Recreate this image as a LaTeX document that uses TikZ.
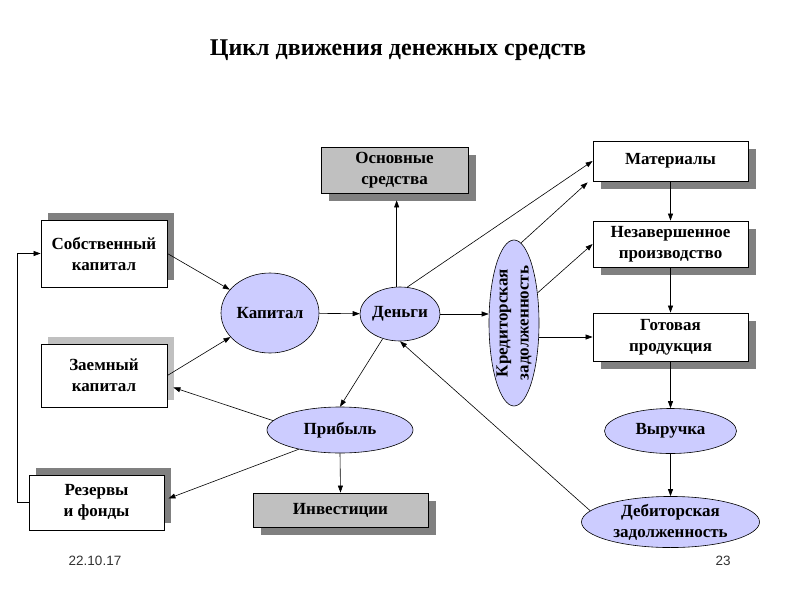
\documentclass[tikz,border=0pt]{standalone}
\usepackage{fontspec}
\setmainfont{Liberation Serif}
\setsansfont{Liberation Sans}
\usetikzlibrary{shapes.geometric,arrows.meta,shadows,calc}
\definecolor{lav}{RGB}{204,204,255}
\definecolor{shd}{RGB}{128,128,128}
\definecolor{lshd}{RGB}{192,192,192}
\definecolor{gbox}{RGB}{192,192,192}
\definecolor{foot}{RGB}{50,50,50}
\begin{document}
\begin{tikzpicture}[x=1pt,y=-1pt,
  txt/.style={font=\fontsize{17}{21}\selectfont\bfseries, align=center},
  box/.style={txt, draw, fill=white, line width=0.8pt, inner sep=0pt},
  upsh/.style={drop shadow={shadow xshift=7pt, shadow yshift=7pt, fill=#1, opacity=1}},
  dnsh/.style={drop shadow={shadow xshift=8pt, shadow yshift=-8pt, fill=#1, opacity=1}},
  oval/.style={txt, ellipse, draw, fill=lav, line width=0.6pt, inner sep=0pt},
  arr/.style={-{Triangle[length=7pt,width=5pt]}, line width=0.6pt},
  ln/.style={line width=0.6pt}
]
\useasboundingbox (0,0) rectangle (800,600);

\node[font=\fontsize{24}{28}\selectfont\bfseries] (title) at (398,50) {Цикл движения денежных средств};

% boxes
\node[box, upsh=shd, minimum width=126, minimum height=67] (sob) at (104,253.5) {Собственный\\капитал};
\node[box, upsh=lshd, minimum width=126, minimum height=63] (zaem) at (104,375.5) {Заемный\\капитал};
\node[box, upsh=shd, minimum width=135, minimum height=55] (rez) at (96.5,502.5) {Резервы\\и фонды};
\node[box, dnsh=shd, fill=gbox, minimum width=147, minimum height=46] (osn) at (394.5,170) {Основные\\средства};
\node[box, dnsh=shd, fill=gbox, minimum width=175, minimum height=34] (inv) at (340.5,510) {Инвестиции};
\node[box, dnsh=shd, minimum width=155, minimum height=40] (mat) at (670.5,161) {Материалы};
\node[box, dnsh=shd, minimum width=155, minimum height=46] (nez) at (670.5,244) {Незавершенное\\производство};
\node[box, dnsh=shd, minimum width=155, minimum height=48] (got) at (670.5,337) {Готовая\\продукция};

% ellipses
\node[oval, minimum width=98, minimum height=80] (kap) at (270,313) {Капитал};
\node[oval, minimum width=80, minimum height=54] (den) at (400,314) {Деньги};
\node[oval, minimum width=50, minimum height=166] (kred) at (514,323) {};
\node[txt, rotate=90] (kredt) at (kred) {Кредиторская\\задолженность};
\node[oval, minimum width=146, minimum height=46] (prib) at (340,430) {Прибыль};
\node[oval, minimum width=132, minimum height=45] (vyr) at (670.5,431) {Выручка};
\node[oval, minimum width=178, minimum height=50] (deb) at (670.5,522) {Дебиторская\\задолженность};

% connectors
\draw[arr] (rez.west) -- ++(-11,0) |- (sob.west);
\draw[arr] (sob.east) -- (kap);
\draw[arr] (zaem.east) -- (kap);
\draw[arr] (prib.172) -- ($(zaem.east)+(6,12)$);
\draw[arr] (prib.205) -- ($(rez.east)+(4,-4)$);
\draw[arr] (kap) -- (den);
\draw[arr] (den.97) -- ($(den.97 |- osn.south)+(0,7)$);
\draw[arr] (den.75) -- (mat.west);
\draw[arr] (den.east) -- (kred.west |- den.east);
\draw[arr] (kred.85) -- ($(mat.south west)+(-5,1)$);
\draw[arr] (kred.52) -- (nez.west);
\draw[arr] (kred.east |- got.west) -- (got.west);
\draw[arr] (den.235) -- (prib.north);
\draw[arr] (prib.south) -- (inv.north);
\draw[arr] (mat.south) -- (nez.north);
\draw[arr] (nez.south) -- (got.north);
\draw[arr] (got.south) -- (vyr.north);
\draw[arr] (vyr.south) -- (deb.north);
\draw[arr] (deb.172) -- (den.south);

% footer
\node[font=\sffamily\fontsize{13.5}{16}\selectfont, text=foot] (date) at (95,561) {22.10.17};
\node[font=\sffamily\fontsize{13.5}{16}\selectfont, text=foot] (page) at (723,561) {23};
\end{tikzpicture}
\end{document}
